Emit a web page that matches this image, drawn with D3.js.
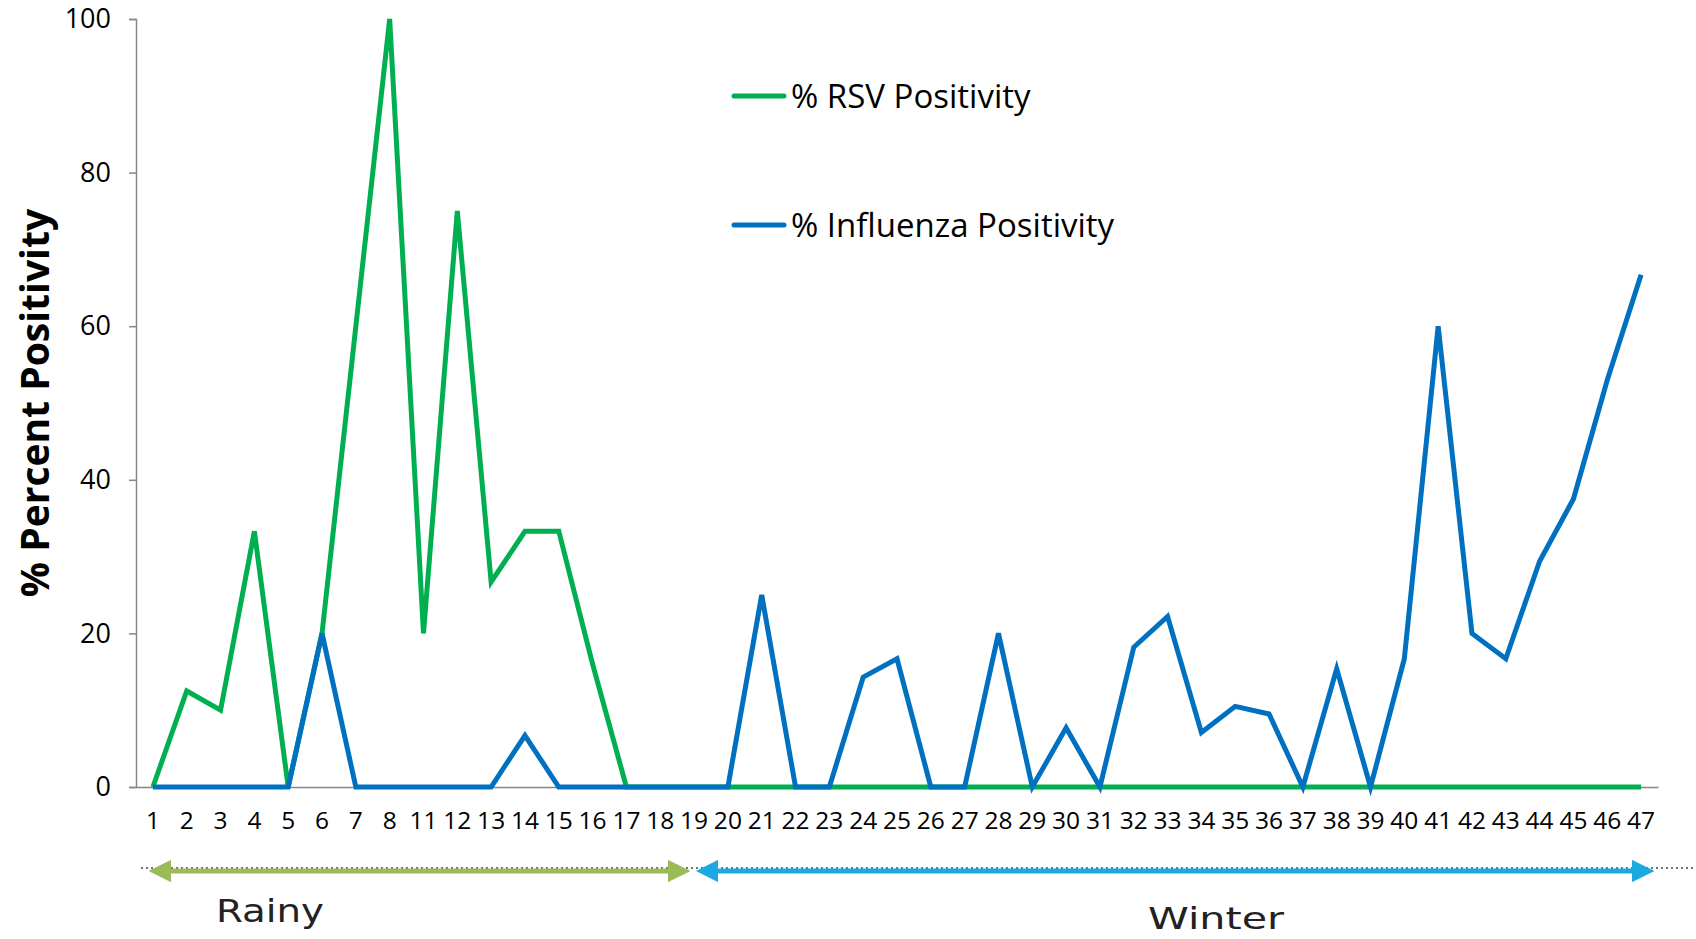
<!DOCTYPE html>
<html>
<head>
<meta charset="utf-8">
<script src="https://cdn.jsdelivr.net/npm/d3@7"></script>
<style>
  html, body { margin: 0; padding: 0; background: #fff; }
  svg { display: block; }
  .tick text { font-family: "Open Sans", sans-serif; fill: #000; }
</style>
</head>
<body>
<svg id="chart" width="1696" height="939"></svg>
<script>
// weeks shown on the x axis (9 and 10 are absent in the source)
const weeks = ["1","2","3","4","5","6","7","8","11","12","13","14","15","16","17","18","19","20",
  "21","22","23","24","25","26","27","28","29","30","31","32","33","34","35","36","37","38","39",
  "40","41","42","43","44","45","46","47"];

const rsvValues = [0, 12.5, 10, 33.3, 0, 20, 60, 100, 20, 75, 26.7, 33.3, 33.3, 16, 0, 0, 0, 0,
  0, 0, 0, 0, 0, 0, 0, 0, 0, 0, 0, 0, 0, 0, 0, 0, 0, 0, 0,
  0, 0, 0, 0, 0, 0, 0, 0];

const fluValues = [0, 0, 0, 0, 0, 20, 0, 0, 0, 0, 0, 6.7, 0, 0, 0, 0, 0, 0,
  25, 0, 0, 14.3, 16.7, 0, 0, 20, 0, 7.7, 0, 18.2, 22.2, 7.1, 10.5, 9.5, 0, 15.4, 0,
  16.7, 60, 20, 16.7, 29.4, 37.5, 53, 66.7];

const yTicks = [0, 20, 40, 60, 80, 100];

const seriesNames = ["% RSV Positivity", "% Influenza Positivity"];
const seriesColors = ["#00b050", "#0070c0"];

const seasons = [
  { name: "Rainy", from: "1", to: "19", color: "#9bbb59" },
  { name: "Winter", from: "19", to: "47", color: "#1ba9e1" }
];

const margin = { top: 19, right: 38, bottom: 152, left: 136 };
const width = 1696, height = 939;
const innerW = width - margin.left - margin.right;
const innerH = height - margin.top - margin.bottom;

const svg = d3.select("#chart");
const g = svg.append("g").attr("transform", `translate(${margin.left},${margin.top})`);

const x = d3.scaleBand().domain(weeks).range([0, innerW]).paddingInner(0).paddingOuter(0);
const y = d3.scaleLinear().domain([0, 100]).range([innerH, 0]);
const cx = w => x(w) + x.bandwidth() / 2;

// y axis
const yAxis = g.append("g").call(d3.axisLeft(y).tickValues(yTicks).tickSize(7).tickPadding(18));
yAxis.select(".domain").attr("stroke", "#868686").attr("stroke-width", 1.5);
yAxis.selectAll(".tick line").attr("stroke", "#868686").attr("stroke-width", 1.5);
yAxis.selectAll(".tick text").attr("font-size", 27);

// x axis
const xAxis = g.append("g").attr("transform", `translate(0,${innerH})`)
  .call(d3.axisBottom(x).tickSize(0).tickPadding(25));
xAxis.select(".domain").attr("stroke", "#868686").attr("stroke-width", 1.5);
xAxis.selectAll(".tick text").attr("font-size", 24.5);

// y axis title
svg.append("text")
  .attr("transform", `translate(49,${403}) rotate(-90)`)
  .attr("text-anchor", "middle")
  .attr("font-family", "'Open Sans', sans-serif")
  .attr("font-weight", "bold")
  .attr("font-size", 39)
  .text("% Percent Positivity");

// lines
const line = d3.line().x((d, i) => cx(weeks[i])).y(d => y(d));
[rsvValues, fluValues].forEach((vals, k) => {
  g.append("path")
    .datum(vals)
    .attr("fill", "none")
    .attr("stroke", seriesColors[k])
    .attr("stroke-width", 5)
    .attr("d", line);
});

// legend
const legend = g.append("g").attr("transform", "translate(598,77)");
seriesNames.forEach((name, k) => {
  const row = legend.append("g").attr("transform", `translate(0,${k * 129})`);
  row.append("line").attr("x1", 0).attr("x2", 50).attr("y1", 0).attr("y2", 0)
    .attr("stroke", seriesColors[k]).attr("stroke-width", 5).attr("stroke-linecap", "round");
  row.append("text").attr("x", 57).attr("y", 0).attr("dy", "0.35em")
    .attr("font-family", "'Open Sans', sans-serif").attr("font-size", 33)
    .attr("fill", "#000").text(name);
});

// season arrows
const defs = svg.append("defs");
seasons.forEach((s, i) => {
  defs.append("marker").attr("id", "arrow" + i)
    .attr("viewBox", "0 0 10 10").attr("refX", 5).attr("refY", 5)
    .attr("markerWidth", 4.5).attr("markerHeight", 4.5)
    .attr("orient", "auto-start-reverse")
    .append("path").attr("d", "M0,0 L10,5 L0,10 z").attr("fill", s.color);
});

const arrowY = innerH + 84;
g.append("line")
  .attr("x1", 5).attr("x2", width - margin.left - 2)
  .attr("y1", arrowY - 3).attr("y2", arrowY - 3)
  .attr("stroke", "#444").attr("stroke-width", 1.5).attr("stroke-dasharray", "2,3");

seasons.forEach((s, i) => {
  const x1 = i === 0 ? cx(s.from) - 4 : cx(s.from) + 2;
  const x2 = i === 0 ? cx(s.to) - 4 : cx(s.to) + 13;
  g.append("line")
    .attr("x1", x1 + 11).attr("x2", x2 - 11)
    .attr("y1", arrowY).attr("y2", arrowY)
    .attr("stroke", s.color).attr("stroke-width", 5)
    .attr("marker-start", `url(#arrow${i})`)
    .attr("marker-end", `url(#arrow${i})`);
});

svg.append("text").attr("x", 270).attr("y", 922).attr("text-anchor", "middle")
  .attr("font-family", "'DejaVu Sans', sans-serif").attr("font-size", 32).attr("fill", "#222")
  .attr("textLength", 108).attr("lengthAdjust", "spacingAndGlyphs")
  .text(seasons[0].name);
svg.append("text").attr("x", 1216).attr("y", 929).attr("text-anchor", "middle")
  .attr("font-family", "'DejaVu Sans', sans-serif").attr("font-size", 30).attr("fill", "#222")
  .attr("textLength", 136).attr("lengthAdjust", "spacingAndGlyphs")
  .text(seasons[1].name);
</script>
</body>
</html>
